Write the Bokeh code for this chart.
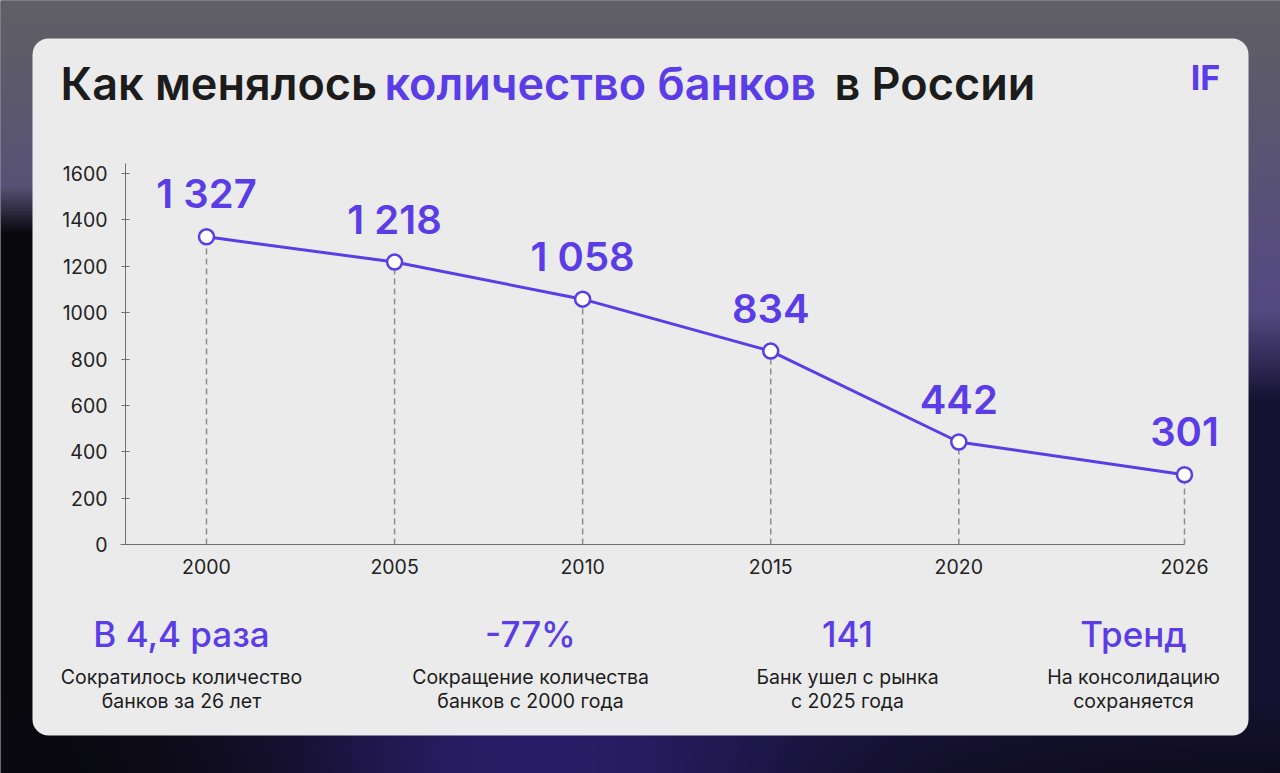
import numpy as np
from bokeh.plotting import figure
from bokeh.models import Range1d, LinearAxis, FixedTicker, BoxAnnotation
from bokeh.core.properties import value
from bokeh.embed import file_html
from bokeh.resources import INLINE

# ---------------- data ----------------
years = [2000, 2005, 2010, 2015, 2020, 2026]
banks = [1327, 1218, 1058, 834, 442, 301]
bank_labels = ["1 327", "1 218", "1 058", "834", "442", "301"]
y_ticks = [0, 200, 400, 600, 800, 1000, 1200, 1400, 1600]
title_parts = ["Как менялось ", "количество банков", " в России"]
stat_values = ["В 4,4 раза", "-77%", "141", "Тренд"]
stat_line1 = ["Сократилось количество", "Сокращение количества", "Банк ушел с рынка", "На консолидацию"]
stat_line2 = ["банков за 26 лет", "банков с 2000 года", "с 2025 года", "сохраняется"]
logo = "IF"

# ---------------- layout ----------------
W, H = 1280, 773
PURPLE = "#5a3de6"
DARK = "#1c1c1c"
FONT = "Inter"
FONT_SB = "Inter SemiBold, Inter"
FONT_MD = "Inter Medium, Inter"

X0_PX, X1_PX = 206, 1184     # pixel of first / last year
Y0_PX, Y1_PX = 544, 173      # pixel of value 0 / 1600
AXIS_X_PX = 125
stat_x = [181, 530, 847, 1133]
title_x = [60, 384, 834]

p = figure(width=W, height=H, x_range=Range1d(0, W), y_range=Range1d(H, 0),
           x_axis_type=None, y_axis_type=None, toolbar_location=None,
           output_backend="svg", min_border=0, outline_line_color=None,
           background_fill_color="#151320", border_fill_color="#151320")

sx = (X1_PX - X0_PX) / (years[-1] - years[0])
xs = years[0] - X0_PX / sx
sy = (Y0_PX - Y1_PX) / y_ticks[-1]
p.extra_x_ranges = {"xv": Range1d(xs, xs + W / sx)}
p.extra_y_ranges = {"yv": Range1d(-(H - Y0_PX) / sy, Y0_PX / sy), "bg": Range1d(0, H)}

# ---------------- background gradient ----------------
R = 4
hh, ww = H // R + 1, W // R + 1
yy, xx = np.mgrid[0:hh, 0:ww].astype(float)
t = yy / (hh - 1)
u = xx / (ww - 1)
top = np.array([96, 96, 100.0])
mid = np.array([84, 74, 130.0])
bot = np.array([22, 18, 50.0])
k1 = np.clip(t / 0.38, 0, 1)[..., None]
k2 = np.clip((t - 0.40) / 0.12, 0, 1)[..., None]
col = top * (1 - k1) + mid * k1
col = col * (1 - k2) + bot * k2
# dark left silhouette
dl = (np.clip((0.45 - u) / 0.2, 0, 1) * np.clip((t - 0.24) / 0.06, 0, 1))[..., None]
col = col * (1 - dl) + np.array([9, 9, 13.0]) * dl
# bottom purple glow
g = (np.exp(-((u - 0.42) / 0.22) ** 2) * np.clip((t - 0.86) / 0.1, 0, 1))[..., None]
col = col * (1 - g) + np.array([42, 30, 105.0]) * g
# darker bottom corners
dc = (np.clip((t - 0.9) / 0.1, 0, 1) * (1 - np.exp(-((u - 0.42) / 0.35) ** 2)))[..., None]
col = col * (1 - 0.6 * dc) + np.array([10, 9, 16.0]) * 0.6 * dc
col = np.clip(col, 0, 255).astype(np.uint32)
img = (255 << 24) | (col[..., 2] << 16) | (col[..., 1] << 8) | col[..., 0]
img = np.flipud(img).astype(np.uint32)
p.image_rgba(image=[img], x=0, y=0, dw=W, dh=H, y_range_name="bg", level="image")

# ---------------- card ----------------
card = BoxAnnotation(left=32, right=1248, top=38, bottom=735, fill_color="#ebebeb",
                     fill_alpha=1, line_color=None, border_radius=16, level="underlay")
p.add_layout(card)

# ---------------- title ----------------
title_colors = [DARK, PURPLE, DARK]
for tx, part, c in zip(title_x, title_parts, title_colors):
    p.text(x=[tx], y=[83], text=[part.strip()], text_font=value(FONT_SB),
           text_font_size="45px", text_color=c, text_baseline="alphabetic",
           text_align="left")
p.text(x=[1205], y=[77], text=[logo], text_font=value(FONT), text_font_style="bold",
       text_font_size="34px", text_color=PURPLE, text_baseline="alphabetic", text_align="center")

# ---------------- chart ----------------
base = [0] * len(years)
p.segment(x0=years, y0=base, x1=years, y1=banks, x_range_name="xv", y_range_name="yv",
          line_color="#8c8c8c", line_width=1.5, line_dash="6 4")
p.line(years, banks, x_range_name="xv", y_range_name="yv", line_color=PURPLE, line_width=3)
p.scatter(years, banks, x_range_name="xv", y_range_name="yv", size=15,
          fill_color="white", line_color=PURPLE, line_width=2.5)
p.text(x=years, y=banks, text=bank_labels, x_range_name="xv", y_range_name="yv",
       text_font=value(FONT_SB), text_font_size="40px", text_color=PURPLE,
       text_align="center", text_baseline="alphabetic", y_offset=-43)

yax = LinearAxis(y_range_name="yv", fixed_location=AXIS_X_PX,
                 ticker=FixedTicker(ticks=y_ticks), bounds=(0, y_ticks[-1] + 45))
yax.major_tick_in = 4
yax.major_tick_out = 4
yax.minor_tick_in = 0
yax.minor_tick_out = 0
yax.axis_line_color = "#707070"
yax.major_tick_line_color = "#707070"
yax.major_label_text_font = FONT
yax.major_label_text_font_size = "19.5px"
yax.major_label_text_color = "#222222"
yax.major_label_standoff = 14
p.add_layout(yax, "left")

xax = LinearAxis(x_range_name="xv", fixed_location=Y0_PX,
                 ticker=FixedTicker(ticks=years),
                 bounds=(years[0] - (X0_PX - AXIS_X_PX + 5) / sx, years[-1]))
xax.major_tick_in = 0
xax.major_tick_out = 0
xax.minor_tick_in = 0
xax.minor_tick_out = 0
xax.axis_line_color = "#707070"
xax.major_label_text_font = FONT
xax.major_label_text_font_size = "19.5px"
xax.major_label_text_color = "#222222"
xax.major_label_standoff = 14
p.add_layout(xax, "below")

# ---------------- stats ----------------
p.text(x=stat_x, y=[633] * 4, text=stat_values, text_font=value(FONT_MD),
       text_font_size="35px", text_color=PURPLE, text_align="center", text_baseline="alphabetic")
p.text(x=stat_x, y=[676] * 4, text=stat_line1, text_font=value(FONT),
       text_font_size="19.5px", text_color=DARK, text_align="center", text_baseline="alphabetic")
p.text(x=stat_x, y=[700] * 4, text=stat_line2, text_font=value(FONT),
       text_font_size="19.5px", text_color=DARK, text_align="center", text_baseline="alphabetic")

open("out.html", "w").write(file_html(p, INLINE))
